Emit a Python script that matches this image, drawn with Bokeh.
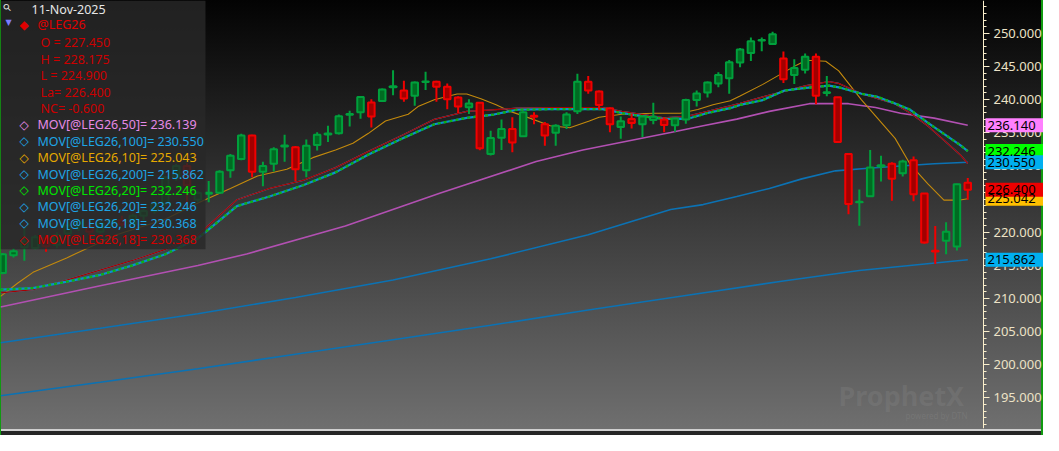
from bokeh.plotting import figure
from bokeh.models import (Range1d, Label, BoxAnnotation, SingleIntervalTicker,
                          PrintfTickFormatter, ColumnDataSource, LinearAxis)
from bokeh.core.properties import value
from bokeh.embed import file_html
from bokeh.resources import INLINE

# ---------------- data ----------------
opens = [213.85, 216.53, 217.73, 217.63, 219.08, 218.10, 219.81, 220.80, 220.78, 220.06,
         221.30, 221.80, 221.20, 222.50, 223.20, 224.30, 228.30, 230.00, 224.90, 225.80,
         225.97, 229.36, 231.06, 234.59, 229.11, 230.33, 232.92, 232.81, 229.36, 233.14,
         234.74, 234.93, 237.72, 238.08, 239.58, 239.78, 241.86, 241.38, 240.60, 242.66,
         242.69, 241.96, 240.31, 238.85, 239.53, 231.79, 234.26, 235.57, 234.49, 237.57,
         236.29, 234.99, 236.15, 238.23, 242.69, 241.24, 238.71, 235.86, 237.06, 236.29,
         236.92, 237.02, 236.15, 237.02, 239.93, 241.09, 242.44, 243.21, 245.60, 247.05,
         248.90, 248.40, 246.22, 243.71, 244.52, 246.47, 240.99, 240.36, 231.79, 224.52,
         225.44, 229.90, 230.33, 228.88, 230.86, 225.83, 217.20, 218.70, 217.83, 227.45]
highs = [216.86, 217.63, 220.78, 219.60, 219.58, 220.00, 221.50, 222.00, 221.50, 221.70,
         222.00, 222.50, 222.80, 223.50, 224.80, 228.50, 230.30, 230.40, 226.20, 227.72,
         229.36, 231.79, 234.84, 234.69, 230.63, 232.81, 234.69, 233.00, 233.97, 235.07,
         236.05, 237.75, 238.33, 240.55, 240.07, 241.67, 244.43, 242.83, 242.73, 244.19,
         242.83, 242.44, 240.50, 240.07, 239.60, 235.32, 237.02, 237.35, 238.23, 238.08,
         236.63, 236.29, 238.08, 243.90, 243.56, 241.38, 238.81, 237.46, 237.89, 237.60,
         239.53, 237.35, 237.25, 240.12, 241.38, 242.73, 244.14, 245.97, 247.78, 249.37,
         249.37, 250.25, 247.24, 246.08, 246.95, 246.95, 243.56, 240.40, 231.93, 226.45,
         232.41, 231.54, 230.57, 230.92, 231.44, 225.90, 220.93, 221.50, 227.30, 228.175]
lows = [213.66, 216.18, 215.70, 217.44, 217.05, 217.60, 219.50, 220.20, 219.50, 219.80,
        220.80, 220.90, 221.00, 221.80, 222.80, 224.00, 227.80, 224.42, 224.50, 224.52,
        225.87, 228.20, 230.86, 228.30, 226.93, 229.17, 230.63, 227.72, 228.30, 232.31,
        233.62, 234.74, 235.94, 237.11, 235.80, 239.64, 240.65, 239.68, 239.06, 241.47,
        239.68, 238.56, 237.98, 237.83, 232.37, 231.58, 232.41, 232.08, 234.35, 236.29,
        233.04, 233.04, 235.57, 237.83, 240.89, 238.47, 235.07, 234.11, 235.65, 234.35,
        236.29, 235.07, 235.17, 236.38, 238.95, 240.31, 241.86, 240.89, 244.87, 245.83,
        247.28, 248.30, 242.49, 242.34, 243.94, 239.29, 240.51, 233.47, 222.72, 220.97,
        225.34, 227.66, 224.75, 228.39, 224.67, 218.27, 215.22, 216.67, 217.25, 224.90]
closes = [216.67, 217.15, 218.60, 219.23, 217.88, 219.60, 221.03, 221.60, 220.06, 221.27,
          221.80, 221.20, 222.50, 223.20, 224.30, 228.30, 230.00, 227.08, 225.90, 225.94,
          229.11, 231.54, 234.59, 229.11, 229.99, 232.51, 233.07, 229.51, 233.04, 234.69,
          234.88, 237.50, 237.83, 240.41, 237.46, 241.53, 242.00, 240.16, 242.59, 242.73,
          241.96, 240.07, 238.95, 239.43, 232.66, 234.20, 235.57, 233.53, 238.08, 237.43,
          234.59, 236.05, 237.75, 242.69, 241.38, 239.20, 236.29, 236.73, 236.48, 237.46,
          237.40, 236.19, 237.17, 239.93, 240.94, 242.59, 243.71, 245.64, 247.57, 248.79,
          249.00, 249.85, 243.07, 244.77, 246.47, 240.60, 241.13, 233.62, 224.27, 224.60,
          229.75, 230.10, 228.05, 230.67, 225.73, 218.46, 217.10, 220.06, 227.22, 226.40]

# moving averages (bar index, value)
ma10_x = [-0.2, 1.4, 2.8, 5.9, 10.5, 15, 18, 21, 23.5, 26.2, 28.6, 30.7, 32.3, 33.7, 35.3,
          37.4, 38.3, 39.8, 41.9, 42.8, 44.1, 45.5, 46.8, 48.6, 50.5, 52.3, 54.1, 55, 57.1,
          60.1, 62.5, 64.1, 65.5, 67.1, 68, 70.1, 73.2, 74.1, 75.9, 77.1, 79.2, 82.3, 83.7,
          85.3, 86.8, 88.3, 89]
ma10_y = [210.32, 212.35, 213.95, 216.13, 219.62, 221.95, 224.42, 226.6, 228.49, 229.51,
          231.25, 232.41, 233.43, 234.88, 236.77, 237.79, 238.95, 239.97, 240.84, 240.84,
          240.12, 239.24, 238.23, 237.21, 236.05, 235.76, 236.77, 237.35, 237.79, 237.94,
          237.94, 238.52, 239.24, 239.83, 240.55, 242.3, 245.2, 245.93, 245.78, 244.33,
          239.97, 234.16, 230.23, 227.33, 224.85, 224.85, 225.04]
ma20_x = [-0.2, 2.8, 5.9, 8.9, 11.9, 15, 18, 21.6, 24.6, 27.7, 30.7, 33.7, 36.8, 39.8, 42.8,
          45.3, 47.4, 50.5, 53.5, 55.3, 57.1, 58.9, 61, 63.2, 65, 67.1, 68, 70.1, 72.1, 74.1,
          76.2, 77.1, 79.2, 80.7, 82.3, 83.7, 85.3, 86.8, 88.3, 89]
ma20_y = [211.34, 211.58, 212.54, 213.52, 214.97, 216.67, 219.08, 223.94, 225.39, 227.08,
          229.03, 231.69, 234.11, 236.29, 237.25, 237.75, 238.47, 238.56, 238.56, 238.56,
          237.98, 237.5, 237.11, 237.11, 237.98, 238.71, 239.2, 239.93, 241.38, 241.76,
          242.11, 241.86, 240.89, 240.41, 239.43, 238.47, 236.53, 234.84, 233.14, 232.246]
ma18_x = [-0.2, 2.8, 5.9, 8.9, 11.9, 15, 18, 21.6, 24.6, 27.7, 30.7, 33.7, 36.8, 39.8, 42.8,
          45.3, 47.4, 50.5, 55.3, 57.1, 61, 63.2, 65, 67.1, 68, 70.1, 74.1, 76.2, 77.1, 79.2,
          82.3, 83.7, 85.3, 86.8, 88.3, 89]
ma18_y = [210.86, 211.34, 212.79, 214.24, 215.7, 217.4, 219.58, 224.9, 226.6, 227.81,
          229.75, 232.17, 234.59, 237.02, 238.23, 238.47, 238.71, 238.8, 238.8, 238.23,
          237.25, 237.5, 238.23, 239.06, 239.43, 240.41, 242.11, 242.73, 242.44, 240.89,
          239.35, 237.98, 236.05, 233.87, 231.69, 230.368]
ma50_x = [-0.2, 9, 18, 22.5, 31.6, 40.3, 49.2, 53.5, 61.6, 64.6, 67.7, 70.7, 74.4, 78,
          80.5, 82.8, 85.9, 89]
ma50_y = [208.72, 211.92, 214.97, 216.72, 220.93, 225.87, 230.67, 232.41, 235.03, 236.05,
          237.06, 238.23, 239.39, 239.39, 238.81, 237.94, 237.21, 236.139]
ma100_x = [-0.2, 9, 18, 27, 36, 45, 54, 61.6, 64.6, 67.7, 70.7, 73.7, 76.8, 79.8, 82.8,
           85.9, 89]
ma100_y = [203.34, 205.52, 207.7, 210.17, 212.79, 215.99, 219.62, 223.44, 224.17, 225.39,
           226.6, 228.05, 229.26, 229.65, 229.99, 230.33, 230.55]
ma200_x = [-0.2, 9, 18, 27, 36, 45, 54, 63, 72, 79, 89]
ma200_y = [195.35, 197.38, 199.42, 201.6, 203.78, 205.96, 208.28, 210.47, 212.65, 214.24,
           215.862]

header_date = "11-Nov-2025"
symbol = "@LEG26"
ohlc_lines = ["O = 227.450", "H = 228.175", "L = 224.900", "La= 226.400", "NC=  -0.600"]
legend_entries = [("MOV[@LEG26,50]= 236.139", "#e68ae6"),
                  ("MOV[@LEG26,100]= 230.550", "#1ea5e6"),
                  ("MOV[@LEG26,10]= 225.043", "#e6a800"),
                  ("MOV[@LEG26,200]= 215.862", "#1ea5e6"),
                  ("MOV[@LEG26,20]= 232.246", "#00e600"),
                  ("MOV[@LEG26,20]= 232.246", "#1ea5e6"),
                  ("MOV[@LEG26,18]= 230.368", "#1ea5e6"),
                  ("MOV[@LEG26,18]= 230.368", "#d40000")]
tag_text = ["236.140", "232.246", "230.550", "225.042", "226.400", "215.862"]
tag_value = [236.140, 232.246, 230.550, 225.042, 226.400, 215.862]
tag_color = ["#ff80ff", "#00ff00", "#00b0f0", "#ffc000", "#ee0000", "#00b0f0"]

# ---------------- figure ----------------
W, H = 1043, 435
FW, FH = 983, 428          # chart area (axis strip lives inside the frame on the right)
X0, XA = -0.2, 90.45       # left edge / position of the price axis
X1 = X0 + (XA - X0) * W / FW
Y0, Y1 = 190.4, 254.95
KX = FW / (XA - X0)        # px per bar

p = figure(width=W, height=H, x_range=Range1d(X0, X1), y_range=Range1d(Y0, Y1),
           x_axis_location=None, y_axis_location=None, output_backend="svg",
           toolbar_location=None, min_border_left=0, min_border_top=0,
           min_border_bottom=7, min_border_right=0)
p.grid.visible = False
p.background_fill_color = None
p.border_fill_color = None
p.outline_line_color = None
p.styles = {
    "background": "linear-gradient(to bottom, #030303 0px, #6f6f6f 428px, #6f6f6f 429px,"
                  " #cfcfcf 429px, #cfcfcf 431px, #262626 431px, #262626 435px)",
    "box-shadow": "inset 1px 0 0 #109a10, inset -2px 0 0 #109a10",
}

ax = LinearAxis(fixed_location=XA)
ax.ticker = SingleIntervalTicker(interval=5, num_minor_ticks=5)
ax.formatter = PrintfTickFormatter(format="%.3f")
ax.axis_line_color = "#fbefcc"
ax.major_tick_line_color = "#fbefcc"
ax.minor_tick_line_color = "#fbefcc"
ax.major_tick_in = 0
ax.major_tick_out = 6
ax.minor_tick_in = 0
ax.minor_tick_out = 3
ax.major_label_text_color = "#ece2c6"
ax.major_label_text_font = "Noto Sans"
ax.major_label_text_font_size = "13px"
ax.major_label_standoff = 4
p.add_layout(ax, "right")


def dx(px):
    return X0 + px / KX


def dy(py):
    return Y1 - py * (Y1 - Y0) / FH


SY = FH / 444.0

# moving average lines
p.line(ma200_x, ma200_y, line_color="#0b72b4", line_width=1.6)
p.line(ma100_x, ma100_y, line_color="#0b72b4", line_width=1.6)
p.line(ma50_x, ma50_y, line_color="#b250b2", line_width=1.6)
p.line(ma10_x, ma10_y, line_color="#c48a0c", line_width=1.1)
p.line(ma18_x, ma18_y, line_color="#1ea5e6", line_width=1.2)
p.line(ma18_x, ma18_y, line_color="#a80000", line_width=1.3)
p.line(ma20_x, ma20_y, line_color="#0a8fd0", line_width=2.2)
p.line(ma20_x, ma20_y, line_color="#10b010", line_width=2.2, line_dash="3 3")

# candles
idx = list(range(len(opens)))
up = [c >= o for o, c in zip(opens, closes)]
src = ColumnDataSource(dict(
    i=idx, h=highs, l=lows,
    top=[max(o, c) for o, c in zip(opens, closes)],
    bot=[min(o, c) for o, c in zip(opens, closes)],
    line=["#00a03c" if u else "#f00000" for u in up],
    fill=["#006b22" if u else "#a20000" for u in up],
))
p.segment(x0="i", y0="l", x1="i", y1="h", line_color="line", line_width=2, source=src)
p.vbar(x="i", width=0.6, top="top", bottom="bot", fill_color="fill", line_color="line",
       line_width=2, source=src)

# watermark
p.add_layout(Label(x=dx(838), y=dy(410 * SY), text="ProphetX", text_font="Noto Sans",
                   text_font_style="bold", text_font_size="27px", text_color="#a0a0a0",
                   text_alpha=0.16, text_baseline="middle"))
p.add_layout(Label(x=dx(905), y=dy(430 * SY), text="powered by DTN", text_font="Noto Sans",
                   text_font_size="8px", text_color="#a0a0a0", text_alpha=0.2,
                   text_baseline="middle"))

# legend panel
p.add_layout(BoxAnnotation(left=X0, right=dx(205), top=Y1, bottom=dy(258 * SY),
                           fill_color="#282828", fill_alpha=0.82, line_color=None))


def lab(px, py, text, color, size="12.5px", font="Noto Sans", angle=0.0):
    p.add_layout(Label(x=dx(px), y=dy(py * SY), text=text, text_color=color,
                       text_font=font, text_font_size=size, text_baseline="middle",
                       text_align="left", angle=angle))


lab(4, 10, "⚲", "#e8e8e8", size="10px", font="DejaVu Sans", angle=0.8)
lab(31, 9, header_date, "#e6e6e6")
lab(5, 23, "▼", "#7c7cff", size="8px", font="DejaVu Sans")
lab(19, 25, "◆", "#e00000", size="12px", font="DejaVu Sans")
lab(37, 25, symbol, "#e00000")
for k, t in enumerate(ohlc_lines):
    lab(40, 44 + 17 * k, t, "#cc0000")
for k, (t, c) in enumerate(legend_entries):
    lab(19, 129 + 17 * k, "◇", c, size="12px", font="DejaVu Sans")
    lab(37, 129 + 17 * k, t, c)

# value tags on the price axis (drawn above the axis)
tsrc = ColumnDataSource(dict(x=[XA + 31 / KX] * len(tag_value), tx=[XA + 4 / KX] * len(tag_value),
                             y=tag_value, t=tag_text, c=tag_color))
p.rect(x="x", y="y", width=58, height=14, width_units="screen", height_units="screen",
       fill_color="c", line_color=None, source=tsrc, level="annotation")
p.text(x="tx", y="y", text="t", text_color="#000000", text_font=value("Noto Sans"),
       text_font_size="13px", text_baseline="middle", text_align="left", source=tsrc,
       level="annotation")

open("out.html", "w").write(file_html(p, INLINE))
